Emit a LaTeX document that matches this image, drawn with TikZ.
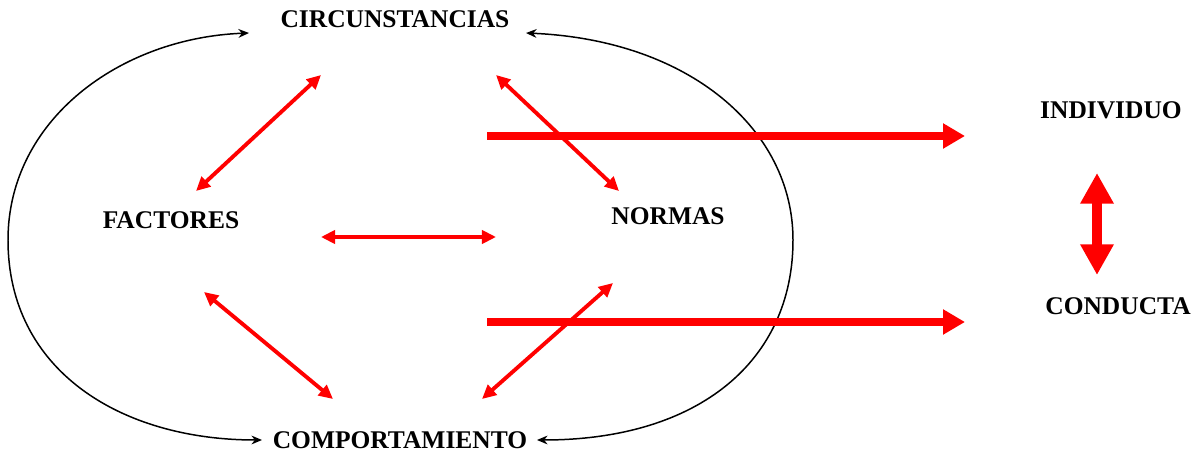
\documentclass[tikz,border=0pt]{standalone}
\usepackage{fontspec}
\setmainfont{Liberation Serif}
\usetikzlibrary{arrows.meta}
\definecolor{rojo}{RGB}{255,0,0}
\begin{document}
\begin{tikzpicture}[x=0.02cm,y=-0.02cm,
  lbl/.style={font=\fontsize{14.5}{17}\selectfont\bfseries, inner sep=0pt},
  ring/.style={line width=0.85pt, black, -{Stealth[length=6pt,width=5pt]}},
  ringb/.style={line width=0.85pt, black, {Stealth[length=6pt,width=5pt]}-{Stealth[length=6pt,width=5pt]}},
  thinred/.style={line width=2.2pt, rojo, {Triangle[length=8pt,width=7.5pt]}-{Triangle[length=8pt,width=7.5pt]}},
  thickred/.style={line width=4.5pt, rojo, -{Triangle[length=12.5pt,width=13.6pt]}},
  bigred/.style={line width=6.2pt, rojo, {Triangle[length=17.5pt,width=18pt]}-{Triangle[length=17.5pt,width=18pt]}}]
\useasboundingbox[fill=white] (0,0) rectangle (1197,452);
% labels
\node[lbl] (circ) at (395,19) {CIRCUNSTANCIAS};
\node[lbl] (fact) at (171,220) {FACTORES};
\node[lbl] (norm) at (668,216) {NORMAS};
\node[lbl] (comp) at (400,440) {COMPORTAMIENTO};
\node[lbl] (indi) at (1111,110) {INDIVIDUO};
\node[lbl] (cond) at (1118,306) {CONDUCTA};
% ring endpoints
\coordinate (lt) at (249,33);
\coordinate (lb) at (262,440);
\coordinate (rt) at (526,33);
\coordinate (rb) at (537,440);
\draw[ringb] (lb) .. controls (120,440) and (8,370) .. (8,240) .. controls (8,120) and (120,38) .. (lt);
\draw[ring] (793,240) .. controls (793,130) and (690,40) .. (rt);
\draw[ring] (793,240) .. controls (793,360) and (700,440) .. (rb);
% thin red double arrows
\coordinate (a1) at (321,75);  \coordinate (a2) at (196,191);
\coordinate (b1) at (496,75);  \coordinate (b2) at (619,191);
\coordinate (c1) at (321,237); \coordinate (c2) at (496,237);
\coordinate (d1) at (204,292); \coordinate (d2) at (333,399);
\coordinate (e1) at (613,283); \coordinate (e2) at (482,399);
\draw[thinred] (a1) -- (a2);
\draw[thinred] (b1) -- (b2);
\draw[thinred] (c1) -- (c2);
\draw[thinred] (d1) -- (d2);
\draw[thinred] (e1) -- (e2);
% thick red arrows
\coordinate (f1) at (487,136); \coordinate (f2) at (965,136);
\coordinate (g1) at (487,322); \coordinate (g2) at (965,322);
\draw[thickred] (f1) -- (f2);
\draw[thickred] (g1) -- (g2);
% big vertical arrow
\coordinate (h1) at (1097,173); \coordinate (h2) at (1097,275);
\draw[bigred] (h1) -- (h2);
\end{tikzpicture}
\end{document}
